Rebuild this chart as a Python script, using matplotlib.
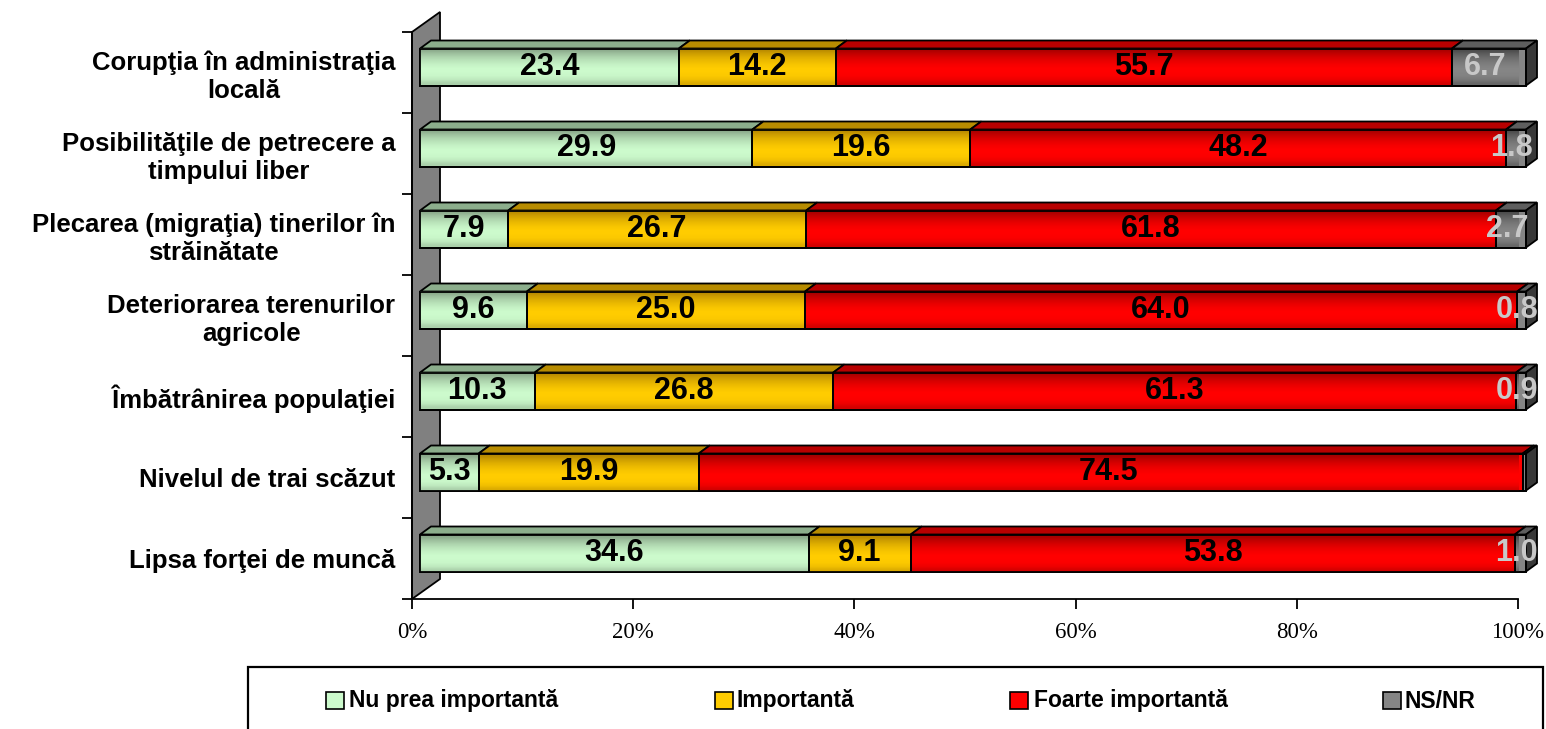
import numpy as np
import matplotlib.pyplot as plt
from matplotlib.patches import Polygon, Rectangle
from matplotlib.colors import LinearSegmentedColormap

# data (percent)
categories = ["Corupţia în administraţia\nlocală",
              "Posibilităţile de petrecere a\ntimpului liber",
              "Plecarea (migraţia) tinerilor în\nstrăinătate",
              "Deteriorarea terenurilor\nagricole",
              "Îmbătrânirea populaţiei",
              "Nivelul de trai scăzut",
              "Lipsa forţei de muncă"]
nu_prea = [23.4, 29.9, 7.9, 9.6, 10.3, 5.3, 34.6]
importanta = [14.2, 19.6, 26.7, 25.0, 26.8, 19.9, 9.1]
foarte = [55.7, 48.2, 61.8, 64.0, 61.3, 74.5, 53.8]
ns_nr = [6.7, 1.8, 2.7, 0.8, 0.9, 0.3, 1.0]
series_names = ["Nu prea importantă", "Importantă", "Foarte importantă", "NS/NR"]
xticks = [0, 20, 40, 60, 80, 100]

# colours: (front edge, front middle, top face, side face)
colors = [("#8aa88a", "#ccfacc", "#8cae8c", "#6e8c6e"),
          ("#b88a00", "#ffcc00", "#b88c00", "#8c6a00"),
          ("#a80000", "#ff0000", "#b80000", "#800000"),
          ("#4a4a4a", "#858585", "#5e5e5e", "#383838")]
label_colors = ["black", "black", "black", "#c8c8c8"]

W, H = 1546, 729
fig = plt.figure(figsize=(W / 100, H / 100), dpi=100)
ax = fig.add_axes([412 / W, 1 - 599 / H, 1106 / W, 567 / H])

px_x = 1106 / 100           # pixels per percent
px_y = 567 / len(categories)  # pixels per category
off_x, off_y = 8 / px_x, -5.5 / px_y   # front face offset from the axes
dx, dy = 11 / px_x, 8 / px_y          # bar depth
bar_h = 37 / px_y

# side wall
wx, wy = 28 / px_x, 20 / px_y
y0, y1 = len(categories) - 0.5, -0.5
wall = Polygon([(0, y0), (0, y1), (wx, y1 - wy), (wx, y0 - wy)], closed=True,
               facecolor="#808080", edgecolor="black", lw=1.3, clip_on=False, zorder=1)
ax.add_patch(wall)

data = np.array([nu_prea, importanta, foarte, ns_nr])
pct = data / data.sum(axis=0) * 100
ypos = np.arange(len(categories)) + off_y
left = np.zeros(len(categories))
grad = np.array([0.0, 0.3, 0.55, 0.75, 0.9, 1.0, 1.0, 0.95, 0.8, 0.5]).reshape(-1, 1)

for k in range(4):
    edge, mid, top, side = colors[k]
    bars = ax.barh(ypos, pct[k], left=left + off_x, height=bar_h, color=mid,
                   edgecolor="black", lw=1.3, zorder=3, clip_on=False)
    cmap = LinearSegmentedColormap.from_list("g%d" % k, [edge, mid])
    for b in bars:
        x0, yb, w, h = b.get_x(), b.get_y(), b.get_width(), b.get_height()
        ax.imshow(grad, extent=[x0, x0 + w, yb + h, yb], cmap=cmap, vmin=0, vmax=1,
                  aspect="auto", zorder=3.5, interpolation="bilinear", origin="upper")
        yt = yb
        ax.add_patch(Polygon([(x0, yt), (x0 + w, yt), (x0 + w + dx, yt - dy), (x0 + dx, yt - dy)],
                             closed=True, facecolor=top, edgecolor="black", lw=1.3,
                             zorder=2.5, clip_on=False))
        if k == 3:
            xr = x0 + w
            ax.add_patch(Polygon([(xr, yt), (xr + dx, yt - dy), (xr + dx, yt + h - dy), (xr, yt + h)],
                                 closed=True, facecolor=side, edgecolor="black", lw=1.3,
                                 zorder=2.5, clip_on=False))
        # outline above gradient
        ax.add_patch(Rectangle((x0, yb), w, h, fill=False, edgecolor="black", lw=1.3,
                               zorder=3.6, clip_on=False))
    ax.bar_label(bars, labels=["%.1f" % v for v in data[k]], label_type="center",
                 fontsize=22, fontweight="bold", family="Liberation Sans",
                 color=label_colors[k], zorder=5)
    left = left + pct[k]

ax.set_xlim(0, 100)
ax.set_ylim(len(categories) - 0.5, -0.5)

for s in ["top", "right"]:
    ax.spines[s].set_visible(False)
ax.spines["left"].set_linewidth(1.3)
ax.spines["bottom"].set_linewidth(1.3)
ax.spines["left"].set_zorder(2)

ax.set_xticks(xticks)
ax.set_xticklabels(["%d%%" % t for t in xticks], family="Liberation Serif", fontsize=16.5)
ax.tick_params(axis="x", length=7.5, width=1.3, pad=9)

ax.set_yticks(np.arange(len(categories) + 1) - 0.5)
ax.set_yticklabels([])
ax.tick_params(axis="y", which="major", length=7.5, width=1.3)
ax.set_yticks(np.arange(len(categories)), minor=True)
ax.set_yticklabels(categories, minor=True, family="Liberation Sans", fontsize=18.5,
                   fontweight="bold", multialignment="center")
ax.tick_params(axis="y", which="minor", length=0, pad=12)

# legend box
fig.patches.append(Rectangle((248 / W, -0.05), (1543 - 248) / W, 0.05 + 1 - 667 / H,
                             transform=fig.transFigure, fill=False, edgecolor="black", lw=1.6))
marker_x = [326, 715, 1010, 1383]
text_x = [349, 737, 1034, 1404]
for k in range(4):
    fig.patches.append(Rectangle((marker_x[k] / W, 1 - 709 / H), 18 / W, 17 / H,
                                 transform=fig.transFigure, facecolor=colors[k][1],
                                 edgecolor="black", lw=1.2))
    fig.text(text_x[k] / W, 1 - 701 / H, series_names[k], family="Liberation Sans",
             fontsize=16.5, fontweight="bold", va="center", ha="left")

fig.savefig("out.png", dpi=100)
